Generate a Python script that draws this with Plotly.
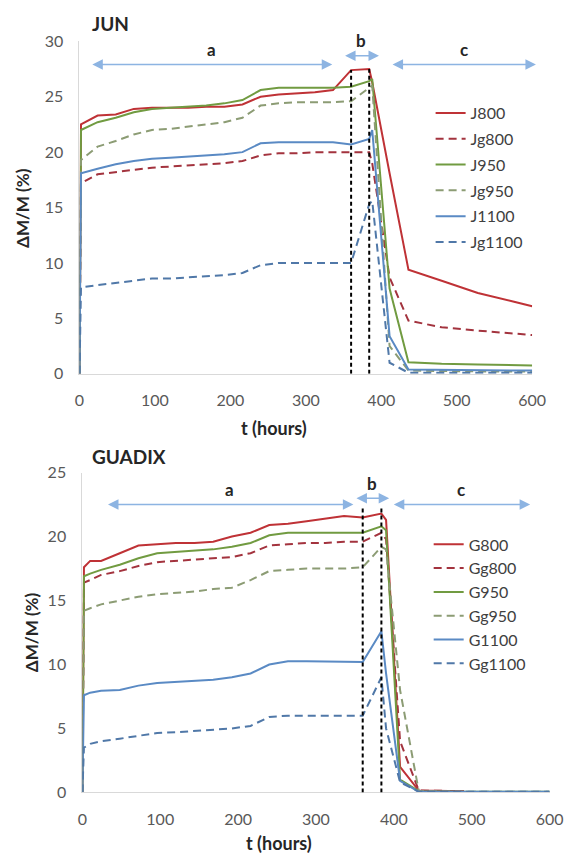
import plotly.graph_objects as go

# ---------------- data: JUN ----------------
time_jun = [0, 2, 24, 48, 72, 96, 120, 144, 168, 192, 216, 240, 264, 288, 312, 336,
            360, 384, 388, 411, 436, 480, 528, 576, 600]
J800 = [0, 22.5, 23.3, 23.4, 23.9, 24.0, 24.0, 24.0, 24.1, 24.1, 24.3, 25.0, 25.2, 25.3, 25.4, 25.6,
        27.4, 27.5, 26.3, 18.1, 9.4, 8.4, 7.3, 6.5, 6.1]
Jg800 = [0, 17.2, 18.0, 18.2, 18.4, 18.6, 18.7, 18.8, 18.9, 19.0, 19.2, 19.7, 19.9, 19.9, 20.0, 20.0,
         20.0, 20.0, 19.0, 8.7, 4.8, 4.2, 3.9, 3.6, 3.5]
J950 = [0, 22.0, 22.7, 23.1, 23.6, 23.9, 24.0, 24.1, 24.2, 24.4, 24.7, 25.6, 25.8, 25.8, 25.8, 25.8,
        25.9, 26.4, 26.6, 7.7, 1.05, 0.9, 0.85, 0.8, 0.75]
Jg950 = [0, 19.3, 20.5, 21.0, 21.6, 22.0, 22.1, 22.3, 22.5, 22.7, 23.1, 24.2, 24.4, 24.5, 24.5, 24.5,
         24.6, 25.8, 26.0, 2.5, 0.3, 0.25, 0.2, 0.2, 0.2]
J1100 = [0, 18.1, 18.5, 18.9, 19.2, 19.4, 19.5, 19.6, 19.7, 19.8, 20.0, 20.8, 20.9, 20.9, 20.9, 20.9,
         20.7, 21.2, 22.0, 3.4, 0.4, 0.35, 0.3, 0.3, 0.3]
Jg1100 = [0, 7.8, 8.0, 8.2, 8.4, 8.6, 8.6, 8.7, 8.8, 8.9, 9.1, 9.8, 10.0, 10.0, 10.0, 10.0,
          10.0, 15.3, 15.6, 1.0, 0.1, 0.1, 0.1, 0.1, 0.1]

# ---------------- data: GUADIX ----------------
time_gua = [0, 2, 10, 24, 48, 72, 96, 120, 144, 168, 192, 216, 240, 264, 288, 312, 336,
            360, 384, 390, 408, 432, 490, 600]
G800 = [0, 17.6, 18.1, 18.1, 18.7, 19.3, 19.4, 19.5, 19.5, 19.6, 20.0, 20.3, 20.9, 21.0, 21.2, 21.4, 21.6,
        21.5, 21.8, 21.3, 2.0, 0.15, 0.1, None]
Gg800 = [0, 16.4, 16.6, 17.0, 17.3, 17.7, 18.0, 18.1, 18.2, 18.3, 18.4, 18.7, 19.3, 19.4, 19.5, 19.5, 19.6,
         19.6, 20.3, 19.8, 4.0, 0.15, 0.1, None]
G950 = [0, 16.9, 17.1, 17.4, 17.8, 18.3, 18.7, 18.8, 18.9, 19.0, 19.2, 19.5, 20.1, 20.3, 20.3, 20.3, 20.3,
        20.3, 20.8, 20.5, 1.0, 0.1, 0.05, 0.05]
Gg950 = [0, 14.2, 14.4, 14.7, 15.0, 15.3, 15.5, 15.6, 15.7, 15.9, 16.0, 16.6, 17.3, 17.4, 17.5, 17.5, 17.5,
         17.6, 19.2, 19.0, 8.0, 0.1, 0.05, 0.05]
G1100 = [0, 7.6, 7.8, 7.95, 8.0, 8.35, 8.55, 8.65, 8.7, 8.8, 9.0, 9.3, 10.0, 10.25, 10.25, 10.25, 10.2,
         10.2, 12.6, 9.3, 0.9, 0.05, 0.05, 0.05]
Gg1100 = [0, 3.5, 3.8, 4.0, 4.2, 4.4, 4.65, 4.7, 4.8, 4.9, 5.0, 5.2, 5.9, 6.0, 6.0, 6.0, 6.0,
          6.0, 9.0, 5.0, 0.8, 0.05, 0.05, 0.05]

# treatment phases (hours) and change times
phase_labels = ["a", "b", "c"]
jun_phase_start = [15, 350, 413]
jun_phase_end = [335, 397, 605]
jun_phase_level = [27.9, 28.7, 27.9]
gua_phase_start = [31, 350, 398]
gua_phase_end = [348, 394, 575]
gua_phase_level = [22.5, 23.0, 22.5]
change_times = [360, 384]
jun_change_top = [27.4, 27.5]
gua_change_top = [22.2, 22.2]

x_ticks = [0, 100, 200, 300, 400, 500, 600]

# ---------------- styling ----------------
FONT = "Lato"
RED = "#BF3236"
RED_D = "#A3333E"
GREEN = "#719B41"
GREEN_D = "#8C9C74"
BLUE = "#5A8AC4"
BLUE_D = "#5078A8"
DASH = "8px,5px"

styles = [
    (RED, "solid"), (RED_D, DASH), (GREEN, "solid"),
    (GREEN_D, DASH), (BLUE, "solid"), (BLUE_D, DASH),
]

fig = go.Figure()

jun_series = [("J800", J800), ("Jg800", Jg800), ("J950", J950),
              ("Jg950", Jg950), ("J1100", J1100), ("Jg1100", Jg1100)]
gua_series = [("G800", G800), ("Gg800", Gg800), ("G950", G950),
              ("Gg950", Gg950), ("G1100", G1100), ("Gg1100", Gg1100)]

for (name, vals), (col, dash) in zip(jun_series, styles):
    fig.add_trace(go.Scatter(x=time_jun, y=vals, name=name, mode="lines",
                             line=dict(color=col, width=2, dash=dash),
                             xaxis="x", yaxis="y", legend="legend",
                             legendgroup=name))
for (name, vals), (col, dash) in zip(gua_series, styles):
    fig.add_trace(go.Scatter(x=time_gua, y=vals, name=name, mode="lines",
                             line=dict(color=col, width=2, dash=dash),
                             xaxis="x2", yaxis="y2", legend="legend2",
                             legendgroup=name))

W, H = 581, 865
axis_common = dict(showgrid=False, zeroline=False, showline=True,
                   linecolor="#D9D9D9", linewidth=1, ticks="",
                   tickfont=dict(family=FONT, size=16, color="#595959"),
                   ticklabelstandoff=12)

fig.update_layout(
    width=W, height=H,
    margin=dict(l=0, r=0, t=0, b=0),
    paper_bgcolor="white", plot_bgcolor="white",
    font=dict(family=FONT),
    xaxis=dict(domain=[77 / W, 545 / W], range=[0, 600], tickvals=x_ticks,
               anchor="y", **axis_common),
    yaxis=dict(domain=[1 - 372 / H, 1 - 32 / H], range=[0, 30], dtick=5,
               anchor="x", **axis_common),
    xaxis2=dict(domain=[80 / W, 563 / W], range=[0, 600], tickvals=x_ticks,
                anchor="y2", **axis_common),
    yaxis2=dict(domain=[1 - 800 / H, 1 - 473 / H], range=[0, 25], dtick=5,
                anchor="x2", **axis_common),
    legend=dict(x=440 / W, y=1 - 88 / H, xanchor="left", yanchor="top",
                font=dict(family=FONT, size=16, color="#404040"),
                tracegroupgap=2, bgcolor="rgba(0,0,0,0)", itemwidth=30),
    legend2=dict(x=438 / W, y=1 - 529 / H, xanchor="left", yanchor="top",
                 font=dict(family=FONT, size=16, color="#404040"),
                 tracegroupgap=0, bgcolor="rgba(0,0,0,0)", itemwidth=30),
    showlegend=True,
)

annotations = []
shapes = []

def add_phases(xref, yref, starts, ends, levels, tops):
    for lab, s, e, lv in zip(phase_labels, starts, ends, levels):
        annotations.append(dict(x=e, y=lv, ax=s, ay=lv, xref=xref, yref=yref,
                                axref=xref, ayref=yref, text="", showarrow=True,
                                arrowhead=2, arrowside="end+start", arrowsize=1.4,
                                arrowwidth=1.5, arrowcolor="#8DB4E2"))
        annotations.append(dict(x=(s + e) / 2, y=lv, xref=xref, yref=yref, text="<b>%s</b>" % lab,
                                showarrow=False, yshift=15,
                                font=dict(family=FONT, size=17, color="#262626")))
    for t, top in zip(change_times, tops):
        shapes.append(dict(type="line", xref=xref, yref=yref, x0=t, x1=t, y0=0, y1=top,
                           line=dict(color="black", width=2, dash="4px,3px")))

add_phases("x", "y", jun_phase_start, jun_phase_end, jun_phase_level, jun_change_top)
add_phases("x2", "y2", gua_phase_start, gua_phase_end, gua_phase_level, gua_change_top)

title_font = dict(family=FONT, size=19, color="#262626")
annotations += [
    dict(text="<b>JUN</b>", x=88 / W, y=1 - 14 / H, xref="paper", yref="paper",
         xanchor="left", yanchor="middle", showarrow=False, font=title_font),
    dict(text="<b>GUADIX</b>", x=88 / W, y=1 - 457 / H, xref="paper", yref="paper",
         xanchor="left", yanchor="middle", showarrow=False, font=title_font),
    dict(text="<b>t (hours)</b>", x=278 / W, y=1 - 427 / H, xref="paper", yref="paper",
         xanchor="center", yanchor="middle", showarrow=False,
         font=dict(family=FONT, size=18, color="#262626")),
    dict(text="<b>t (hours)</b>", x=283 / W, y=1 - 852 / H, xref="paper", yref="paper",
         xanchor="center", yanchor="middle", showarrow=False,
         font=dict(family=FONT, size=18, color="#262626")),
    dict(text="<b>ΔM/M (%)</b>", x=18 / W, y=1 - 202 / H, xref="paper", yref="paper",
         xanchor="center", yanchor="middle", showarrow=False, textangle=-90,
         font=dict(family=FONT, size=17, color="#262626")),
    dict(text="<b>ΔM/M (%)</b>", x=27 / W, y=1 - 636 / H, xref="paper", yref="paper",
         xanchor="center", yanchor="middle", showarrow=False, textangle=-90,
         font=dict(family=FONT, size=17, color="#262626")),
]

fig.update_layout(annotations=annotations, shapes=shapes)
fig.write_html("out.html")
